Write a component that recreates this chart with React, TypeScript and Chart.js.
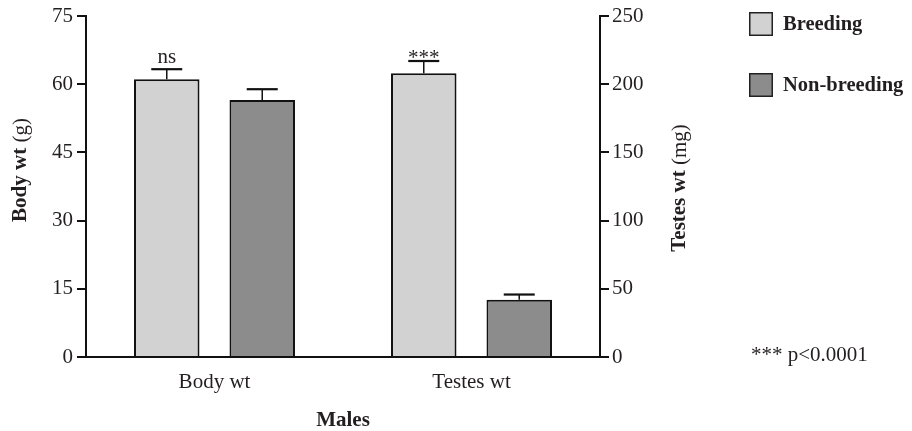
import React, { useEffect, useRef } from "react";
import { Chart, registerables } from "chart.js";
Chart.register(...registerables);

const categories = ["Body wt", "Testes wt"];
const seriesNames = ["Breeding", "Non-breeding"];
const bodyWtMeans = [61.1, 56.5]; // g: breeding, non-breeding
const bodyWtErrors = [2.2, 2.4];
const testesWtMeans = [208, 42]; // mg: breeding, non-breeding
const testesWtErrors = [9, 3.8];
const significance = ["ns", "***"]; // breeding vs non-breeding, per category
const leftTicks = [0, 15, 30, 45, 60, 75];
const rightTicks = [0, 50, 100, 150, 200, 250];
const footnote = "*** p<0.0001";

const BREED = "#d2d2d2";
const NONBREED = "#8c8c8c";
const INK = "#231f20";
const SERIF = "'Liberation Serif', 'Times New Roman', serif";

const colors = [BREED, NONBREED];

// one dataset per (series, measure), nulls skipped in grouping
const datasets = [
  { label: seriesNames[0], data: [bodyWtMeans[0], null], yAxisID: "y", backgroundColor: colors[0] },
  { label: seriesNames[1], data: [bodyWtMeans[1], null], yAxisID: "y", backgroundColor: colors[1] },
  { label: seriesNames[0], data: [null, testesWtMeans[0]], yAxisID: "y1", backgroundColor: colors[0] },
  { label: seriesNames[1], data: [null, testesWtMeans[1]], yAxisID: "y1", backgroundColor: colors[1] },
];
const errors = [
  [bodyWtErrors[0], null],
  [bodyWtErrors[1], null],
  [null, testesWtErrors[0]],
  [null, testesWtErrors[1]],
];
const notes = [
  [significance[0], null],
  [null, null],
  [null, significance[1]],
  [null, null],
];

const errorBarPlugin = {
  id: "errorBars",
  afterDatasetsDraw(chart: any) {
    const ctx = chart.ctx;
    ctx.save();
    chart.data.datasets.forEach((ds: any, i: number) => {
      const meta = chart.getDatasetMeta(i);
      const yScale = chart.scales[meta.yAxisID];
      ds.data.forEach((v: any, j: number) => {
        if (v === null || v === undefined) return;
        const err = errors[i][j];
        const el = meta.data[j];
        if (!el) return;
        const x = el.x;
        const capY = yScale.getPixelForValue(v + (err || 0));
        if (err) {
          ctx.strokeStyle = "#111";
          ctx.lineWidth = 1.5;
          ctx.beginPath();
          ctx.moveTo(x, el.y);
          ctx.lineTo(x, capY);
          ctx.stroke();
          ctx.lineWidth = 2.2;
          ctx.beginPath();
          ctx.moveTo(x - 15.5, capY);
          ctx.lineTo(x + 15.5, capY);
          ctx.stroke();
        }
        const note = notes[i][j];
        if (note) {
          ctx.fillStyle = INK;
          ctx.font = `21px ${SERIF}`;
          ctx.textAlign = "center";
          ctx.textBaseline = "alphabetic";
          ctx.fillText(note, x, note === "ns" ? capY - 6 : capY + 3);
        }
      });
    });
    ctx.restore();
  },
};

function drawMixed(ctx: any, parts: [string, boolean][], cx: number, cy: number, rotate: boolean) {
  ctx.save();
  ctx.translate(cx, cy);
  if (rotate) ctx.rotate(-Math.PI / 2);
  ctx.fillStyle = INK;
  ctx.textBaseline = "middle";
  ctx.textAlign = "left";
  let total = 0;
  const widths = parts.map(([t, b]) => {
    ctx.font = `${b ? "bold " : ""}21px ${SERIF}`;
    const w = ctx.measureText(t).width;
    total += w;
    return w;
  });
  let x = -total / 2;
  parts.forEach(([t, b], k) => {
    ctx.font = `${b ? "bold " : ""}21px ${SERIF}`;
    ctx.fillText(t, x, 0);
    x += widths[k];
  });
  ctx.restore();
}

const textPlugin = {
  id: "texts",
  afterDraw(chart: any) {
    const ctx = chart.ctx;
    const ca = chart.chartArea;
    drawMixed(ctx, [["Body wt", true], [" (g)", false]], 13, 162, true);
    drawMixed(ctx, [["Testes wt", true], [" (mg)", false]], 672, 180, true);
    drawMixed(ctx, [["Males", true]], (ca.left + ca.right) / 2, 413, false);
    // legend
    ctx.save();
    const items = [
      { name: seriesNames[0], color: colors[0], y: 4 },
      { name: seriesNames[1], color: colors[1], y: 65 },
    ];
    items.forEach((it) => {
      ctx.fillStyle = it.color;
      ctx.fillRect(741, it.y, 24, 24);
      ctx.strokeStyle = "#222";
      ctx.lineWidth = 1.5;
      ctx.strokeRect(741.75, it.y + 0.75, 22.5, 22.5);
      ctx.fillStyle = INK;
      ctx.font = `bold 20.5px ${SERIF}`;
      ctx.textAlign = "left";
      ctx.textBaseline = "middle";
      ctx.fillText(it.name, 775, it.y + 13);
    });
    ctx.font = `21px ${SERIF}`;
    ctx.fillText(footnote, 743, 347);
    ctx.restore();
  },
};

export default function App() {
  const ref = useRef<HTMLCanvasElement>(null);
  useEffect(() => {
    if (!ref.current) return;
    const tickFont = { family: SERIF, size: 21 };
    const chart = new Chart(ref.current, {
      type: "bar",
      data: { labels: categories, datasets: datasets as any },
      options: {
        animation: false,
        responsive: false,
        skipNull: true,
        categoryPercentage: 0.743,
        barPercentage: 0.686,
        borderColor: "#111",
        borderWidth: 2,
        layout: { padding: { top: 8, left: 0, right: 0, bottom: 0 } },
        plugins: { legend: { display: false }, tooltip: { enabled: false } },
        scales: {
          x: {
            grid: { display: false, drawTicks: false },
            border: { display: true, color: "#111", width: 2 },
            ticks: { font: tickFont, color: INK, padding: 13 },
            afterFit: (s: any) => {
              s.height = 74;
              s.paddingLeft = 0;
              s.paddingRight = 0;
            },
          },
          y: {
            position: "left",
            min: 0,
            max: 75,
            afterBuildTicks: (s: any) => {
              s.ticks = leftTicks.map((v) => ({ value: v }));
            },
            grid: { drawOnChartArea: false, drawTicks: true, tickLength: 9, color: "#111", lineWidth: 2 },
            border: { display: true, color: "#111", width: 2 },
            ticks: { font: tickFont, color: INK, padding: 4 },
            afterFit: (s: any) => {
              s.width = 78;
              s.paddingTop = 0;
              s.paddingBottom = 0;
            },
          },
          y1: {
            position: "right",
            min: 0,
            max: 250,
            afterBuildTicks: (s: any) => {
              s.ticks = rightTicks.map((v) => ({ value: v }));
            },
            grid: { drawOnChartArea: false, drawTicks: true, tickLength: 9, color: "#111", lineWidth: 2 },
            border: { display: true, color: "#111", width: 2 },
            ticks: { font: tickFont, color: INK, padding: 3 },
            afterFit: (s: any) => {
              s.width = 304;
              s.paddingTop = 0;
              s.paddingBottom = 0;
            },
          },
        },
      } as any,
      plugins: [errorBarPlugin, textPlugin],
    });
    return () => chart.destroy();
  }, []);
  return <canvas ref={ref} width={896} height={423} style={{ display: "block" }} />;
}
